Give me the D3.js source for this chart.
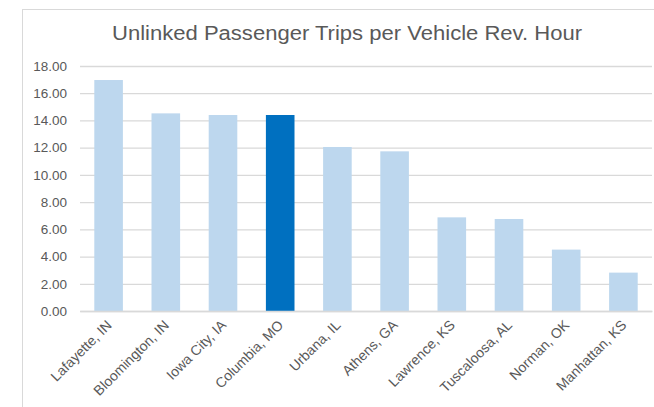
<!DOCTYPE html>
<html>
<head>
<meta charset="utf-8">
<script src="https://cdn.jsdelivr.net/npm/d3@7"></script>
<style>
  html, body { margin: 0; padding: 0; background: #fff; }
  svg { display: block; }
</style>
</head>
<body>
<svg id="chart" width="654" height="407"></svg>
<script>
// Transit agencies compared by unlinked passenger trips per vehicle revenue hour
const cities = ["Lafayette, IN", "Bloomington, IN", "Iowa City, IA", "Columbia, MO",
  "Urbana, IL", "Athens, GA", "Lawrence, KS", "Tuscaloosa, AL", "Norman, OK", "Manhattan, KS"];
const tripsPerHour = [16.97, 14.52, 14.40, 14.40, 12.05, 11.73, 6.88, 6.76, 4.51, 2.82];
const highlighted = ["Columbia, MO"];
const yTicks = [0, 2, 4, 6, 8, 10, 12, 14, 16, 18];
const titleText = "Unlinked Passenger Trips per Vehicle Rev. Hour";

const svg = d3.select("#chart");
const font = "'Liberation Sans', Arial, sans-serif";
const textColor = "#595959";

const plot = { left: 80, right: 652, top: 66, bottom: 311 };

// chart frame
svg.append("rect")
  .attr("x", 22.5).attr("y", 9.5)
  .attr("width", 700).attr("height", 500)
  .attr("fill", "#fff").attr("stroke", "#d9d9d9").attr("stroke-width", 1);

// title
svg.append("text")
  .attr("x", 347).attr("y", 40)
  .attr("text-anchor", "middle")
  .attr("font-family", font).attr("font-size", 19.5)
  .attr("fill", textColor)
  .attr("textLength", 470).attr("lengthAdjust", "spacingAndGlyphs")
  .text(titleText);

const x = d3.scaleBand()
  .domain(cities)
  .range([plot.left, plot.right])
  .paddingInner(0.5).paddingOuter(0.25);

const y = d3.scaleLinear()
  .domain([0, 18])
  .range([plot.bottom, plot.top]);

// horizontal gridlines
const yAxis = svg.append("g")
  .attr("transform", `translate(${plot.left},0)`)
  .call(d3.axisLeft(y).tickValues(yTicks).tickFormat(d3.format(".2f"))
    .tickSize(-(plot.right - plot.left)).tickPadding(13));
yAxis.select(".domain").remove();
yAxis.selectAll(".tick line").attr("stroke", "#d9d9d9").attr("stroke-width", 1.3);
yAxis.selectAll(".tick text")
  .attr("font-family", font).attr("font-size", 13.5).attr("fill", textColor);

// bars
svg.append("g").selectAll("rect")
  .data(cities.map((c, i) => ({ city: c, value: tripsPerHour[i] })))
  .join("rect")
  .attr("x", d => x(d.city))
  .attr("width", x.bandwidth())
  .attr("y", d => y(d.value))
  .attr("height", d => y(0) - y(d.value))
  .attr("fill", d => highlighted.includes(d.city) ? "#0070c0" : "#bdd7ee");

// category axis with slanted labels
const xAxis = svg.append("g")
  .attr("transform", `translate(0,${plot.bottom})`)
  .call(d3.axisBottom(x).tickSize(0).tickPadding(0));
xAxis.select(".domain").attr("stroke", "#d9d9d9").attr("stroke-width", 1.3);
xAxis.selectAll(".tick text")
  .attr("font-family", font).attr("font-size", 14).attr("fill", textColor)
  .attr("text-anchor", "end")
  .attr("dy", 0)
  .attr("transform", "translate(4,15) rotate(-45)");
</script>
</body>
</html>
